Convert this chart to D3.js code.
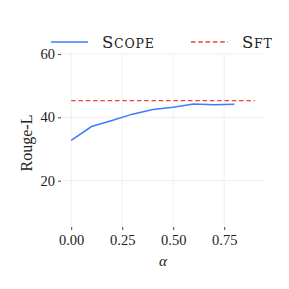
<!DOCTYPE html>
<html>
<head>
<meta charset="utf-8">
<script src="https://cdn.jsdelivr.net/npm/d3@7"></script>
<style>
  body { margin: 0; background: #fff; }
  text { font-family: "Liberation Serif", "DejaVu Serif", serif; fill: #222; }
</style>
</head>
<body>
<svg id="chart" width="289" height="289"></svg>
<script>
// data
const alphas     = [0, 0.1, 0.2, 0.3, 0.4, 0.5, 0.6, 0.7, 0.8];
const scopeVals  = [32.7, 37.1, 39.0, 41.0, 42.5, 43.2, 44.2, 44.0, 44.1];
const sftValue   = 45.3;
const sftRange   = [0, 0.9];
const xTicks     = [0, 0.25, 0.5, 0.75];
const yTicks     = [20, 40, 60];

const svg = d3.select("#chart");

// panel box
const pLeft = 62, pRight = 264, pTop = 53, pBottom = 226;

const x = d3.scaleLinear().domain([-0.045, 0.945]).range([pLeft, pRight]);
const y = d3.scaleLinear().domain([5.7, 60.3]).range([pBottom, pTop]);

// grid
svg.append("g").selectAll("line")
  .data(xTicks).enter().append("line")
    .attr("x1", d => x(d)).attr("x2", d => x(d))
    .attr("y1", pTop).attr("y2", pBottom)
    .attr("stroke", "#ebebeb").attr("stroke-width", 0.8);
svg.append("g").selectAll("line")
  .data(yTicks).enter().append("line")
    .attr("x1", pLeft).attr("x2", pRight)
    .attr("y1", d => y(d)).attr("y2", d => y(d))
    .attr("stroke", "#ebebeb").attr("stroke-width", 0.8);

// axes
const xAxis = svg.append("g")
  .attr("transform", `translate(0,${pBottom + 1})`)
  .call(d3.axisBottom(x).tickValues(xTicks).tickFormat(d3.format(".2f")).tickSize(3).tickPadding(5));
const yAxis = svg.append("g")
  .attr("transform", `translate(${pLeft - 1},0)`)
  .call(d3.axisLeft(y).tickValues(yTicks).tickSize(3).tickPadding(3));
[xAxis, yAxis].forEach(a => {
  a.select(".domain").remove();
  a.selectAll(".tick line").attr("stroke", "#444");
  a.selectAll(".tick text").style("font-size", "14.5px").attr("fill", "#333");
});

// SFT baseline
svg.append("line")
  .attr("x1", x(sftRange[0])).attr("x2", x(sftRange[1]))
  .attr("y1", y(sftValue)).attr("y2", y(sftValue))
  .attr("stroke", "#ef4136").attr("stroke-width", 1.3)
  .attr("stroke-dasharray", "4.5,2.8");

// SCOPE line
const line = d3.line().x((d, i) => x(alphas[i])).y(d => y(d));
svg.append("path")
  .datum(scopeVals)
  .attr("d", line)
  .attr("fill", "none")
  .attr("stroke", "#3d7dff").attr("stroke-width", 1.5);

// axis titles
svg.append("text")
  .attr("x", 163).attr("y", 266)
  .attr("text-anchor", "middle")
  .style("font-size", "15px").style("font-style", "italic")
  .text("α");
svg.append("text")
  .attr("transform", "translate(32,143) rotate(-90)")
  .attr("text-anchor", "middle")
  .style("font-size", "16px")
  .text("Rouge-L");

// legend (small caps drawn by hand: big first letter, smaller rest)
const legend = svg.append("g").attr("transform", "translate(0,42)");
const items = [
  { name: "Scope", color: "#3d7dff", dash: null, x: 51 },
  { name: "Sft",   color: "#ef4136", dash: "4.5,2.8", x: 191 }
];
items.forEach(it => {
  legend.append("line")
    .attr("x1", it.x).attr("x2", it.x + 37)
    .attr("stroke", it.color).attr("stroke-width", 1.4)
    .attr("stroke-dasharray", it.dash);
  const t = legend.append("text")
    .attr("x", it.x + 51).attr("y", 6)
    .style("font-family", "'DejaVu Serif', serif")
    .style("letter-spacing", "0.8px");
  t.append("tspan").style("font-size", "16.5px").text(it.name[0]);
  t.append("tspan").style("font-size", "12.5px").text(it.name.slice(1).toUpperCase());
});
</script>
</body>
</html>
